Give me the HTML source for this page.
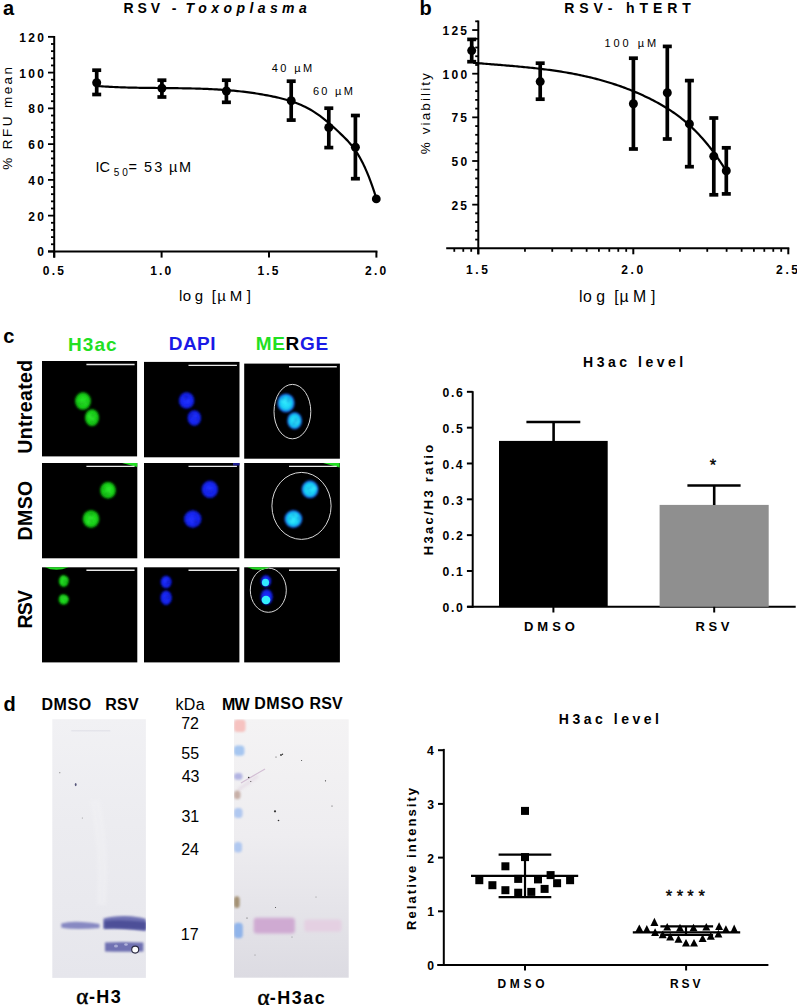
<!DOCTYPE html>
<html><head><meta charset="utf-8"><style>
html,body{margin:0;padding:0;background:#fff;width:797px;height:1005px;overflow:hidden;}
svg{display:block;font-family:"Liberation Sans", sans-serif;}
</style></head><body>
<svg width="797" height="1005" viewBox="0 0 797 1005" font-family='"Liberation Sans", sans-serif'><defs><filter id="bl" x="-50%" y="-50%" width="200%" height="200%"><feGaussianBlur stdDeviation="1.2"/></filter><filter id="bl2" x="-50%" y="-50%" width="200%" height="200%"><feGaussianBlur stdDeviation="0.7"/></filter><filter id="blb" x="-50%" y="-50%" width="200%" height="200%"><feGaussianBlur stdDeviation="1.1"/></filter><clipPath id="cg1"><rect x="52.3" y="719.2" width="93.6" height="258.7"/></clipPath><clipPath id="cg2"><rect x="234" y="719.3" width="114.7" height="258.4"/></clipPath><filter id="bl3" x="-50%" y="-50%" width="200%" height="200%"><feGaussianBlur stdDeviation="1.5"/></filter><radialGradient id="gG"><stop offset="0" stop-color="#2ee82e"/><stop offset="0.7" stop-color="#16d016"/><stop offset="1" stop-color="#0a900a"/></radialGradient><radialGradient id="gB"><stop offset="0" stop-color="#2232ff"/><stop offset="0.7" stop-color="#1424f0"/><stop offset="1" stop-color="#0a12a0"/></radialGradient><radialGradient id="gC"><stop offset="0" stop-color="#30eaff"/><stop offset="0.65" stop-color="#18d0f4"/><stop offset="1" stop-color="#1440e0"/></radialGradient><linearGradient id="gel1" x1="0" y1="0" x2="0" y2="1"><stop offset="0" stop-color="#f1f1f4"/><stop offset="0.4" stop-color="#ececf0"/><stop offset="1" stop-color="#e6e6ec"/></linearGradient><linearGradient id="gel2" x1="0" y1="0" x2="0" y2="1"><stop offset="0" stop-color="#f4f3f4"/><stop offset="0.45" stop-color="#eeedf0"/><stop offset="0.7" stop-color="#e6e5ea"/><stop offset="1" stop-color="#dcdbe2"/></linearGradient></defs>
<text x="3.01" y="15.00" font-family='"Liberation Sans", sans-serif' font-size="20" font-weight="bold" font-style="normal" fill="#000" >a</text>
<text x="123.56 137.56 150.79 164.02 171.80" y="13.20" font-family='"Liberation Sans", sans-serif' font-size="14" font-weight="bold" font-style="normal" fill="#000" >RSV -</text>
<text x="185.41 198.36 211.31 223.50 236.46 249.41 257.70 269.89 282.07 298.92" y="13.20" font-family='"Liberation Sans", sans-serif' font-size="14" font-weight="bold" font-style="italic" fill="#000" >Toxoplasma</text>
<line x1="54.20" y1="36.00" x2="54.20" y2="257.60" stroke="#000" stroke-width="2" stroke-linecap="butt"/>
<line x1="48.00" y1="251.40" x2="377.40" y2="251.40" stroke="#000" stroke-width="2" stroke-linecap="butt"/>
<line x1="48.00" y1="251.40" x2="54.20" y2="251.40" stroke="#000" stroke-width="1.8" stroke-linecap="butt"/>
<text x="37.22" y="256.30" font-family='"Liberation Sans", sans-serif' font-size="12" font-weight="bold" font-style="normal" fill="#000" >0</text>
<line x1="51.00" y1="244.25" x2="54.20" y2="244.25" stroke="#000" stroke-width="1.8" stroke-linecap="butt"/>
<line x1="51.00" y1="237.10" x2="54.20" y2="237.10" stroke="#000" stroke-width="1.8" stroke-linecap="butt"/>
<line x1="51.00" y1="229.94" x2="54.20" y2="229.94" stroke="#000" stroke-width="1.8" stroke-linecap="butt"/>
<line x1="51.00" y1="222.79" x2="54.20" y2="222.79" stroke="#000" stroke-width="1.8" stroke-linecap="butt"/>
<line x1="48.00" y1="215.64" x2="54.20" y2="215.64" stroke="#000" stroke-width="1.8" stroke-linecap="butt"/>
<text x="28.24 37.22" y="220.54" font-family='"Liberation Sans", sans-serif' font-size="12" font-weight="bold" font-style="normal" fill="#000" >20</text>
<line x1="51.00" y1="208.49" x2="54.20" y2="208.49" stroke="#000" stroke-width="1.8" stroke-linecap="butt"/>
<line x1="51.00" y1="201.34" x2="54.20" y2="201.34" stroke="#000" stroke-width="1.8" stroke-linecap="butt"/>
<line x1="51.00" y1="194.18" x2="54.20" y2="194.18" stroke="#000" stroke-width="1.8" stroke-linecap="butt"/>
<line x1="51.00" y1="187.03" x2="54.20" y2="187.03" stroke="#000" stroke-width="1.8" stroke-linecap="butt"/>
<line x1="48.00" y1="179.88" x2="54.20" y2="179.88" stroke="#000" stroke-width="1.8" stroke-linecap="butt"/>
<text x="28.24 37.22" y="184.78" font-family='"Liberation Sans", sans-serif' font-size="12" font-weight="bold" font-style="normal" fill="#000" >40</text>
<line x1="51.00" y1="172.73" x2="54.20" y2="172.73" stroke="#000" stroke-width="1.8" stroke-linecap="butt"/>
<line x1="51.00" y1="165.58" x2="54.20" y2="165.58" stroke="#000" stroke-width="1.8" stroke-linecap="butt"/>
<line x1="51.00" y1="158.42" x2="54.20" y2="158.42" stroke="#000" stroke-width="1.8" stroke-linecap="butt"/>
<line x1="51.00" y1="151.27" x2="54.20" y2="151.27" stroke="#000" stroke-width="1.8" stroke-linecap="butt"/>
<line x1="48.00" y1="144.12" x2="54.20" y2="144.12" stroke="#000" stroke-width="1.8" stroke-linecap="butt"/>
<text x="28.24 37.22" y="149.02" font-family='"Liberation Sans", sans-serif' font-size="12" font-weight="bold" font-style="normal" fill="#000" >60</text>
<line x1="51.00" y1="136.97" x2="54.20" y2="136.97" stroke="#000" stroke-width="1.8" stroke-linecap="butt"/>
<line x1="51.00" y1="129.82" x2="54.20" y2="129.82" stroke="#000" stroke-width="1.8" stroke-linecap="butt"/>
<line x1="51.00" y1="122.66" x2="54.20" y2="122.66" stroke="#000" stroke-width="1.8" stroke-linecap="butt"/>
<line x1="51.00" y1="115.51" x2="54.20" y2="115.51" stroke="#000" stroke-width="1.8" stroke-linecap="butt"/>
<line x1="48.00" y1="108.36" x2="54.20" y2="108.36" stroke="#000" stroke-width="1.8" stroke-linecap="butt"/>
<text x="28.24 37.22" y="113.26" font-family='"Liberation Sans", sans-serif' font-size="12" font-weight="bold" font-style="normal" fill="#000" >80</text>
<line x1="51.00" y1="101.21" x2="54.20" y2="101.21" stroke="#000" stroke-width="1.8" stroke-linecap="butt"/>
<line x1="51.00" y1="94.06" x2="54.20" y2="94.06" stroke="#000" stroke-width="1.8" stroke-linecap="butt"/>
<line x1="51.00" y1="86.90" x2="54.20" y2="86.90" stroke="#000" stroke-width="1.8" stroke-linecap="butt"/>
<line x1="51.00" y1="79.75" x2="54.20" y2="79.75" stroke="#000" stroke-width="1.8" stroke-linecap="butt"/>
<line x1="48.00" y1="72.60" x2="54.20" y2="72.60" stroke="#000" stroke-width="1.8" stroke-linecap="butt"/>
<text x="19.27 28.24 37.22" y="77.50" font-family='"Liberation Sans", sans-serif' font-size="12" font-weight="bold" font-style="normal" fill="#000" >100</text>
<line x1="51.00" y1="65.45" x2="54.20" y2="65.45" stroke="#000" stroke-width="1.8" stroke-linecap="butt"/>
<line x1="51.00" y1="58.30" x2="54.20" y2="58.30" stroke="#000" stroke-width="1.8" stroke-linecap="butt"/>
<line x1="51.00" y1="51.14" x2="54.20" y2="51.14" stroke="#000" stroke-width="1.8" stroke-linecap="butt"/>
<line x1="51.00" y1="43.99" x2="54.20" y2="43.99" stroke="#000" stroke-width="1.8" stroke-linecap="butt"/>
<line x1="48.00" y1="36.84" x2="54.20" y2="36.84" stroke="#000" stroke-width="1.8" stroke-linecap="butt"/>
<text x="19.27 28.24 37.22" y="41.74" font-family='"Liberation Sans", sans-serif' font-size="12" font-weight="bold" font-style="normal" fill="#000" >120</text>
<line x1="54.20" y1="251.40" x2="54.20" y2="257.60" stroke="#000" stroke-width="2" stroke-linecap="butt"/>
<text x="42.79 51.66 57.20" y="275.40" font-family='"Liberation Sans", sans-serif' font-size="12" font-weight="bold" font-style="normal" fill="#000" >0.5</text>
<line x1="161.60" y1="251.40" x2="161.60" y2="257.60" stroke="#000" stroke-width="2" stroke-linecap="butt"/>
<text x="150.13 159.00 164.54" y="275.40" font-family='"Liberation Sans", sans-serif' font-size="12" font-weight="bold" font-style="normal" fill="#000" >1.0</text>
<line x1="269.00" y1="251.40" x2="269.00" y2="257.60" stroke="#000" stroke-width="2" stroke-linecap="butt"/>
<text x="257.45 266.32 271.86" y="275.40" font-family='"Liberation Sans", sans-serif' font-size="12" font-weight="bold" font-style="normal" fill="#000" >1.5</text>
<line x1="376.40" y1="251.40" x2="376.40" y2="257.60" stroke="#000" stroke-width="2" stroke-linecap="butt"/>
<text x="365.10 373.97 379.51" y="275.40" font-family='"Liberation Sans", sans-serif' font-size="12" font-weight="bold" font-style="normal" fill="#000" >2.0</text>
<text transform="translate(11.60,169.30) rotate(-90)" x="-0.48 13.95 20.13 32.30 42.97 55.15 61.33 75.00 84.93 94.87" y="0" font-family='"Liberation Sans", sans-serif' font-size="13.5" font-weight="normal" font-style="normal" fill="#000" >% RFU mean</text>
<text x="178.89 182.67 194.77 203.11 211.63 217.27 229.77 246.68" y="300.80" font-family='"Liberation Sans", sans-serif' font-size="15" font-weight="normal" font-style="normal" fill="#000" >log [µM]</text>
<path d="M96.70,85.96 L98.58,86.10 L100.45,86.23 L102.33,86.36 L104.21,86.48 L106.08,86.60 L107.96,86.71 L109.84,86.81 L111.71,86.90 L113.59,87.00 L115.47,87.08 L117.34,87.16 L119.22,87.23 L121.09,87.30 L122.97,87.37 L124.85,87.43 L126.72,87.49 L128.60,87.54 L130.48,87.59 L132.35,87.63 L134.23,87.67 L136.11,87.71 L137.98,87.75 L139.86,87.78 L141.74,87.81 L143.61,87.84 L145.49,87.87 L147.37,87.89 L149.24,87.91 L151.12,87.93 L153.00,87.95 L154.87,87.97 L156.75,87.99 L158.62,88.01 L160.50,88.03 L162.38,88.04 L164.25,88.06 L166.13,88.08 L168.01,88.10 L169.88,88.11 L171.76,88.13 L173.64,88.16 L175.51,88.18 L177.39,88.20 L179.27,88.23 L181.14,88.26 L183.02,88.29 L184.90,88.32 L186.77,88.35 L188.65,88.39 L190.53,88.43 L192.40,88.48 L194.28,88.52 L196.16,88.58 L198.03,88.63 L199.91,88.69 L201.78,88.75 L203.66,88.82 L205.54,88.90 L207.41,88.97 L209.29,89.06 L211.17,89.15 L213.04,89.24 L214.92,89.34 L216.80,89.45 L218.67,89.56 L220.55,89.68 L222.43,89.81 L224.30,89.94 L226.18,90.08 L228.06,90.23 L229.93,90.39 L231.81,90.55 L233.69,90.72 L235.56,90.90 L237.44,91.09 L239.31,91.28 L241.19,91.49 L243.07,91.70 L244.94,91.93 L246.82,92.16 L248.70,92.41 L250.57,92.66 L252.45,92.92 L254.33,93.20 L256.20,93.48 L258.08,93.78 L259.96,94.08 L261.83,94.40 L263.71,94.73 L265.59,95.07 L267.46,95.42 L269.34,95.79 L271.22,96.16 L273.09,96.55 L274.97,96.95 L276.84,97.37 L278.72,97.80 L280.60,98.25 L282.47,98.72 L284.35,99.21 L286.23,99.73 L288.10,100.28 L289.98,100.85 L291.86,101.46 L293.73,102.10 L295.61,102.78 L297.49,103.49 L299.36,104.25 L301.24,105.05 L303.12,105.90 L304.99,106.79 L306.87,107.74 L308.75,108.74 L310.62,109.79 L312.50,110.90 L314.38,112.07 L316.25,113.30 L318.13,114.60 L320.00,115.95 L321.88,117.36 L323.76,118.82 L325.63,120.34 L327.51,121.90 L329.39,123.50 L331.26,125.14 L333.14,126.82 L335.02,128.53 L336.89,130.27 L338.77,132.04 L340.65,133.83 L342.52,135.64 L344.40,137.48 L346.28,139.38 L348.15,141.36 L350.03,143.46 L351.91,145.72 L353.78,148.15 L355.66,150.80 L357.53,153.68 L359.41,156.81 L361.29,160.20 L363.16,163.87 L365.04,167.84 L366.92,172.10 L368.79,176.69 L370.67,181.60 L372.55,186.86 L374.42,192.47 L376.30,198.45" fill="none" stroke="#000" stroke-width="2.2" stroke-linejoin="round"/>
<line x1="96.70" y1="70.20" x2="96.70" y2="94.50" stroke="#000" stroke-width="3.7" stroke-linecap="butt"/>
<line x1="92.20" y1="70.20" x2="101.20" y2="70.20" stroke="#000" stroke-width="3.7" stroke-linecap="butt"/>
<line x1="92.20" y1="94.50" x2="101.20" y2="94.50" stroke="#000" stroke-width="3.7" stroke-linecap="butt"/>
<circle cx="96.70" cy="82.70" r="4.5" fill="#000"/>
<line x1="161.90" y1="80.20" x2="161.90" y2="97.00" stroke="#000" stroke-width="3.7" stroke-linecap="butt"/>
<line x1="157.40" y1="80.20" x2="166.40" y2="80.20" stroke="#000" stroke-width="3.7" stroke-linecap="butt"/>
<line x1="157.40" y1="97.00" x2="166.40" y2="97.00" stroke="#000" stroke-width="3.7" stroke-linecap="butt"/>
<circle cx="161.90" cy="88.30" r="4.5" fill="#000"/>
<line x1="226.40" y1="80.20" x2="226.40" y2="102.30" stroke="#000" stroke-width="3.7" stroke-linecap="butt"/>
<line x1="221.90" y1="80.20" x2="230.90" y2="80.20" stroke="#000" stroke-width="3.7" stroke-linecap="butt"/>
<line x1="221.90" y1="102.30" x2="230.90" y2="102.30" stroke="#000" stroke-width="3.7" stroke-linecap="butt"/>
<circle cx="226.40" cy="91.00" r="4.5" fill="#000"/>
<line x1="291.20" y1="81.20" x2="291.20" y2="120.10" stroke="#000" stroke-width="3.7" stroke-linecap="butt"/>
<line x1="286.70" y1="81.20" x2="295.70" y2="81.20" stroke="#000" stroke-width="3.7" stroke-linecap="butt"/>
<line x1="286.70" y1="120.10" x2="295.70" y2="120.10" stroke="#000" stroke-width="3.7" stroke-linecap="butt"/>
<circle cx="291.20" cy="100.70" r="4.5" fill="#000"/>
<line x1="328.80" y1="108.20" x2="328.80" y2="147.60" stroke="#000" stroke-width="3.7" stroke-linecap="butt"/>
<line x1="324.30" y1="108.20" x2="333.30" y2="108.20" stroke="#000" stroke-width="3.7" stroke-linecap="butt"/>
<line x1="324.30" y1="147.60" x2="333.30" y2="147.60" stroke="#000" stroke-width="3.7" stroke-linecap="butt"/>
<circle cx="328.80" cy="127.50" r="4.5" fill="#000"/>
<line x1="355.40" y1="115.50" x2="355.40" y2="178.70" stroke="#000" stroke-width="3.7" stroke-linecap="butt"/>
<line x1="350.90" y1="115.50" x2="359.90" y2="115.50" stroke="#000" stroke-width="3.7" stroke-linecap="butt"/>
<line x1="350.90" y1="178.70" x2="359.90" y2="178.70" stroke="#000" stroke-width="3.7" stroke-linecap="butt"/>
<circle cx="355.40" cy="147.20" r="4.5" fill="#000"/>
<circle cx="376.3" cy="198.9" r="4.4" fill="#000"/>
<text x="271.85 280.36 288.86 294.31 303.04" y="72.20" font-family='"Liberation Sans", sans-serif' font-size="11" font-weight="normal" font-style="normal" fill="#000" >40 µM</text>
<text x="312.94 321.35 329.76 335.11 343.74" y="94.90" font-family='"Liberation Sans", sans-serif' font-size="11" font-weight="normal" font-style="normal" fill="#000" >60 µM</text>
<text x="95.56 99.38" y="172.30" font-family='"Liberation Sans", sans-serif' font-size="14.5" font-weight="normal" font-style="normal" fill="#000" >IC</text>
<text x="113.80 122.13" y="176.40" font-family='"Liberation Sans", sans-serif' font-size="10" font-weight="normal" font-style="normal" fill="#000" >50</text>
<text x="128.59" y="172.30" font-family='"Liberation Sans", sans-serif' font-size="14.5" font-weight="normal" font-style="normal" fill="#000" >=</text>
<text x="143.92 154.37" y="172.30" font-family='"Liberation Sans", sans-serif' font-size="14.5" font-weight="normal" font-style="normal" fill="#000" >53</text>
<text x="169.01 179.11" y="172.30" font-family='"Liberation Sans", sans-serif' font-size="14.5" font-weight="normal" font-style="normal" fill="#000" >µM</text>
<text x="419.48" y="15.00" font-family='"Liberation Sans", sans-serif' font-size="20" font-weight="bold" font-style="normal" fill="#000" >b</text>
<text x="564.16 579.18 593.42 607.66 617.23 626.03 639.48 652.94 667.18 682.20" y="13.00" font-family='"Liberation Sans", sans-serif' font-size="14" font-weight="bold" font-style="normal" fill="#000" >RSV- hTERT</text>
<line x1="478.30" y1="20.50" x2="478.30" y2="254.30" stroke="#000" stroke-width="2" stroke-linecap="butt"/>
<line x1="446.20" y1="248.30" x2="789.30" y2="248.30" stroke="#000" stroke-width="2" stroke-linecap="butt"/>
<line x1="475.20" y1="239.57" x2="478.30" y2="239.57" stroke="#000" stroke-width="1.8" stroke-linecap="butt"/>
<line x1="475.20" y1="230.84" x2="478.30" y2="230.84" stroke="#000" stroke-width="1.8" stroke-linecap="butt"/>
<line x1="475.20" y1="222.11" x2="478.30" y2="222.11" stroke="#000" stroke-width="1.8" stroke-linecap="butt"/>
<line x1="475.20" y1="213.38" x2="478.30" y2="213.38" stroke="#000" stroke-width="1.8" stroke-linecap="butt"/>
<line x1="472.20" y1="204.65" x2="478.30" y2="204.65" stroke="#000" stroke-width="1.8" stroke-linecap="butt"/>
<text x="451.39 460.36" y="209.75" font-family='"Liberation Sans", sans-serif' font-size="12" font-weight="bold" font-style="normal" fill="#000" >25</text>
<line x1="475.20" y1="195.92" x2="478.30" y2="195.92" stroke="#000" stroke-width="1.8" stroke-linecap="butt"/>
<line x1="475.20" y1="187.19" x2="478.30" y2="187.19" stroke="#000" stroke-width="1.8" stroke-linecap="butt"/>
<line x1="475.20" y1="178.46" x2="478.30" y2="178.46" stroke="#000" stroke-width="1.8" stroke-linecap="butt"/>
<line x1="475.20" y1="169.73" x2="478.30" y2="169.73" stroke="#000" stroke-width="1.8" stroke-linecap="butt"/>
<line x1="472.20" y1="161.00" x2="478.30" y2="161.00" stroke="#000" stroke-width="1.8" stroke-linecap="butt"/>
<text x="451.54 460.52" y="166.10" font-family='"Liberation Sans", sans-serif' font-size="12" font-weight="bold" font-style="normal" fill="#000" >50</text>
<line x1="475.20" y1="152.27" x2="478.30" y2="152.27" stroke="#000" stroke-width="1.8" stroke-linecap="butt"/>
<line x1="475.20" y1="143.54" x2="478.30" y2="143.54" stroke="#000" stroke-width="1.8" stroke-linecap="butt"/>
<line x1="475.20" y1="134.81" x2="478.30" y2="134.81" stroke="#000" stroke-width="1.8" stroke-linecap="butt"/>
<line x1="475.20" y1="126.08" x2="478.30" y2="126.08" stroke="#000" stroke-width="1.8" stroke-linecap="butt"/>
<line x1="472.20" y1="117.35" x2="478.30" y2="117.35" stroke="#000" stroke-width="1.8" stroke-linecap="butt"/>
<text x="451.39 460.36" y="122.45" font-family='"Liberation Sans", sans-serif' font-size="12" font-weight="bold" font-style="normal" fill="#000" >75</text>
<line x1="475.20" y1="108.62" x2="478.30" y2="108.62" stroke="#000" stroke-width="1.8" stroke-linecap="butt"/>
<line x1="475.20" y1="99.89" x2="478.30" y2="99.89" stroke="#000" stroke-width="1.8" stroke-linecap="butt"/>
<line x1="475.20" y1="91.16" x2="478.30" y2="91.16" stroke="#000" stroke-width="1.8" stroke-linecap="butt"/>
<line x1="475.20" y1="82.43" x2="478.30" y2="82.43" stroke="#000" stroke-width="1.8" stroke-linecap="butt"/>
<line x1="472.20" y1="73.70" x2="478.30" y2="73.70" stroke="#000" stroke-width="1.8" stroke-linecap="butt"/>
<text x="442.57 451.54 460.52" y="78.80" font-family='"Liberation Sans", sans-serif' font-size="12" font-weight="bold" font-style="normal" fill="#000" >100</text>
<line x1="475.20" y1="64.97" x2="478.30" y2="64.97" stroke="#000" stroke-width="1.8" stroke-linecap="butt"/>
<line x1="475.20" y1="56.24" x2="478.30" y2="56.24" stroke="#000" stroke-width="1.8" stroke-linecap="butt"/>
<line x1="475.20" y1="47.51" x2="478.30" y2="47.51" stroke="#000" stroke-width="1.8" stroke-linecap="butt"/>
<line x1="475.20" y1="38.78" x2="478.30" y2="38.78" stroke="#000" stroke-width="1.8" stroke-linecap="butt"/>
<line x1="472.20" y1="30.05" x2="478.30" y2="30.05" stroke="#000" stroke-width="1.8" stroke-linecap="butt"/>
<text x="442.41 451.39 460.36" y="35.15" font-family='"Liberation Sans", sans-serif' font-size="12" font-weight="bold" font-style="normal" fill="#000" >125</text>
<line x1="475.20" y1="21.32" x2="478.30" y2="21.32" stroke="#000" stroke-width="1.8" stroke-linecap="butt"/>
<line x1="454.29" y1="248.30" x2="454.29" y2="251.80" stroke="#000" stroke-width="1.8" stroke-linecap="butt"/>
<line x1="463.28" y1="248.30" x2="463.28" y2="251.80" stroke="#000" stroke-width="1.8" stroke-linecap="butt"/>
<line x1="471.21" y1="248.30" x2="471.21" y2="251.80" stroke="#000" stroke-width="1.8" stroke-linecap="butt"/>
<line x1="524.96" y1="248.30" x2="524.96" y2="251.80" stroke="#000" stroke-width="1.8" stroke-linecap="butt"/>
<line x1="552.25" y1="248.30" x2="552.25" y2="251.80" stroke="#000" stroke-width="1.8" stroke-linecap="butt"/>
<line x1="571.62" y1="248.30" x2="571.62" y2="251.80" stroke="#000" stroke-width="1.8" stroke-linecap="butt"/>
<line x1="586.64" y1="248.30" x2="586.64" y2="251.80" stroke="#000" stroke-width="1.8" stroke-linecap="butt"/>
<line x1="598.91" y1="248.30" x2="598.91" y2="251.80" stroke="#000" stroke-width="1.8" stroke-linecap="butt"/>
<line x1="609.29" y1="248.30" x2="609.29" y2="251.80" stroke="#000" stroke-width="1.8" stroke-linecap="butt"/>
<line x1="618.28" y1="248.30" x2="618.28" y2="251.80" stroke="#000" stroke-width="1.8" stroke-linecap="butt"/>
<line x1="626.21" y1="248.30" x2="626.21" y2="251.80" stroke="#000" stroke-width="1.8" stroke-linecap="butt"/>
<line x1="679.96" y1="248.30" x2="679.96" y2="251.80" stroke="#000" stroke-width="1.8" stroke-linecap="butt"/>
<line x1="707.25" y1="248.30" x2="707.25" y2="251.80" stroke="#000" stroke-width="1.8" stroke-linecap="butt"/>
<line x1="726.62" y1="248.30" x2="726.62" y2="251.80" stroke="#000" stroke-width="1.8" stroke-linecap="butt"/>
<line x1="741.64" y1="248.30" x2="741.64" y2="251.80" stroke="#000" stroke-width="1.8" stroke-linecap="butt"/>
<line x1="753.91" y1="248.30" x2="753.91" y2="251.80" stroke="#000" stroke-width="1.8" stroke-linecap="butt"/>
<line x1="764.29" y1="248.30" x2="764.29" y2="251.80" stroke="#000" stroke-width="1.8" stroke-linecap="butt"/>
<line x1="773.28" y1="248.30" x2="773.28" y2="251.80" stroke="#000" stroke-width="1.8" stroke-linecap="butt"/>
<line x1="781.21" y1="248.30" x2="781.21" y2="251.80" stroke="#000" stroke-width="1.8" stroke-linecap="butt"/>
<line x1="478.30" y1="248.30" x2="478.30" y2="254.30" stroke="#000" stroke-width="2" stroke-linecap="butt"/>
<text x="465.95 475.22 481.16" y="273.80" font-family='"Liberation Sans", sans-serif' font-size="12" font-weight="bold" font-style="normal" fill="#000" >1.5</text>
<line x1="633.30" y1="248.30" x2="633.30" y2="254.30" stroke="#000" stroke-width="2" stroke-linecap="butt"/>
<text x="621.20 630.47 636.41" y="273.80" font-family='"Liberation Sans", sans-serif' font-size="12" font-weight="bold" font-style="normal" fill="#000" >2.0</text>
<line x1="788.30" y1="248.30" x2="788.30" y2="254.30" stroke="#000" stroke-width="2" stroke-linecap="butt"/>
<text x="776.12 785.39 791.33" y="273.80" font-family='"Liberation Sans", sans-serif' font-size="12" font-weight="bold" font-style="normal" fill="#000" >2.5</text>
<text transform="translate(430.30,153.70) rotate(-90)" x="-0.48 13.62 19.47 28.32 33.42 43.03 52.63 57.73 62.83 67.93 73.78" y="0" font-family='"Liberation Sans", sans-serif' font-size="13.5" font-weight="normal" font-style="normal" fill="#000" >% viability</text>
<text x="579.04 583.04 596.14 604.92 614.17 619.62 633.10 650.88" y="301.80" font-family='"Liberation Sans", sans-serif' font-size="15.8" font-weight="normal" font-style="normal" fill="#000" >log [µM]</text>
<path d="M473.00,62.75 L474.70,62.89 L476.40,63.04 L478.10,63.18 L479.79,63.32 L481.49,63.46 L483.19,63.60 L484.89,63.74 L486.59,63.88 L488.29,64.01 L489.99,64.15 L491.69,64.29 L493.38,64.42 L495.08,64.56 L496.78,64.70 L498.48,64.83 L500.18,64.97 L501.88,65.11 L503.58,65.25 L505.27,65.39 L506.97,65.53 L508.67,65.67 L510.37,65.82 L512.07,65.97 L513.77,66.11 L515.47,66.26 L517.17,66.42 L518.86,66.57 L520.56,66.73 L522.26,66.89 L523.96,67.05 L525.66,67.22 L527.36,67.39 L529.06,67.56 L530.75,67.73 L532.45,67.91 L534.15,68.10 L535.85,68.28 L537.55,68.48 L539.25,68.67 L540.95,68.87 L542.64,69.08 L544.34,69.29 L546.04,69.50 L547.74,69.72 L549.44,69.95 L551.14,70.18 L552.84,70.42 L554.54,70.66 L556.23,70.91 L557.93,71.16 L559.63,71.42 L561.33,71.69 L563.03,71.97 L564.73,72.25 L566.43,72.53 L568.12,72.83 L569.82,73.13 L571.52,73.44 L573.22,73.76 L574.92,74.08 L576.62,74.42 L578.32,74.76 L580.02,75.11 L581.71,75.47 L583.41,75.83 L585.11,76.21 L586.81,76.59 L588.51,76.99 L590.21,77.39 L591.91,77.80 L593.60,78.22 L595.30,78.66 L597.00,79.10 L598.70,79.55 L600.40,80.01 L602.10,80.48 L603.80,80.97 L605.50,81.46 L607.19,81.96 L608.89,82.48 L610.59,83.01 L612.29,83.54 L613.99,84.09 L615.69,84.66 L617.39,85.23 L619.08,85.82 L620.78,86.41 L622.48,87.02 L624.18,87.65 L625.88,88.28 L627.58,88.93 L629.28,89.59 L630.98,90.27 L632.67,90.95 L634.37,91.65 L636.07,92.37 L637.77,93.10 L639.47,93.84 L641.17,94.60 L642.87,95.37 L644.56,96.16 L646.26,96.96 L647.96,97.77 L649.66,98.60 L651.36,99.45 L653.06,100.32 L654.76,101.20 L656.46,102.10 L658.15,103.03 L659.85,103.97 L661.55,104.94 L663.25,105.93 L664.95,106.95 L666.65,108.00 L668.35,109.07 L670.04,110.18 L671.74,111.31 L673.44,112.48 L675.14,113.68 L676.84,114.91 L678.54,116.18 L680.24,117.48 L681.93,118.83 L683.63,120.21 L685.33,121.63 L687.03,123.09 L688.73,124.59 L690.43,126.14 L692.13,127.74 L693.83,129.37 L695.52,131.06 L697.22,132.79 L698.92,134.58 L700.62,136.41 L702.32,138.30 L704.02,140.24 L705.72,142.23 L707.41,144.28 L709.11,146.39 L710.81,148.55 L712.51,150.78 L714.21,153.06 L715.91,155.41 L717.61,157.81 L719.31,160.29 L721.00,162.82 L722.70,165.43 L724.40,168.10 L726.10,170.83" fill="none" stroke="#000" stroke-width="2.2" stroke-linejoin="round"/>
<line x1="471.70" y1="39.40" x2="471.70" y2="61.70" stroke="#000" stroke-width="3.7" stroke-linecap="butt"/>
<line x1="467.20" y1="39.40" x2="476.20" y2="39.40" stroke="#000" stroke-width="3.7" stroke-linecap="butt"/>
<line x1="467.20" y1="61.70" x2="476.20" y2="61.70" stroke="#000" stroke-width="3.7" stroke-linecap="butt"/>
<circle cx="471.70" cy="50.60" r="4.5" fill="#000"/>
<line x1="540.20" y1="63.20" x2="540.20" y2="99.20" stroke="#000" stroke-width="3.7" stroke-linecap="butt"/>
<line x1="535.70" y1="63.20" x2="544.70" y2="63.20" stroke="#000" stroke-width="3.7" stroke-linecap="butt"/>
<line x1="535.70" y1="99.20" x2="544.70" y2="99.20" stroke="#000" stroke-width="3.7" stroke-linecap="butt"/>
<circle cx="540.20" cy="81.60" r="4.5" fill="#000"/>
<line x1="633.40" y1="58.20" x2="633.40" y2="149.00" stroke="#000" stroke-width="3.7" stroke-linecap="butt"/>
<line x1="628.90" y1="58.20" x2="637.90" y2="58.20" stroke="#000" stroke-width="3.7" stroke-linecap="butt"/>
<line x1="628.90" y1="149.00" x2="637.90" y2="149.00" stroke="#000" stroke-width="3.7" stroke-linecap="butt"/>
<circle cx="633.40" cy="103.70" r="4.5" fill="#000"/>
<line x1="667.30" y1="46.40" x2="667.30" y2="139.00" stroke="#000" stroke-width="3.7" stroke-linecap="butt"/>
<line x1="662.80" y1="46.40" x2="671.80" y2="46.40" stroke="#000" stroke-width="3.7" stroke-linecap="butt"/>
<line x1="662.80" y1="139.00" x2="671.80" y2="139.00" stroke="#000" stroke-width="3.7" stroke-linecap="butt"/>
<circle cx="667.30" cy="92.70" r="4.5" fill="#000"/>
<line x1="689.40" y1="80.60" x2="689.40" y2="166.70" stroke="#000" stroke-width="3.7" stroke-linecap="butt"/>
<line x1="684.90" y1="80.60" x2="693.90" y2="80.60" stroke="#000" stroke-width="3.7" stroke-linecap="butt"/>
<line x1="684.90" y1="166.70" x2="693.90" y2="166.70" stroke="#000" stroke-width="3.7" stroke-linecap="butt"/>
<circle cx="689.40" cy="123.90" r="4.5" fill="#000"/>
<line x1="713.80" y1="118.00" x2="713.80" y2="194.80" stroke="#000" stroke-width="3.7" stroke-linecap="butt"/>
<line x1="709.30" y1="118.00" x2="718.30" y2="118.00" stroke="#000" stroke-width="3.7" stroke-linecap="butt"/>
<line x1="709.30" y1="194.80" x2="718.30" y2="194.80" stroke="#000" stroke-width="3.7" stroke-linecap="butt"/>
<circle cx="713.80" cy="156.30" r="4.5" fill="#000"/>
<line x1="726.30" y1="147.80" x2="726.30" y2="193.90" stroke="#000" stroke-width="3.7" stroke-linecap="butt"/>
<line x1="721.80" y1="147.80" x2="730.80" y2="147.80" stroke="#000" stroke-width="3.7" stroke-linecap="butt"/>
<line x1="721.80" y1="193.90" x2="730.80" y2="193.90" stroke="#000" stroke-width="3.7" stroke-linecap="butt"/>
<circle cx="726.30" cy="170.80" r="4.5" fill="#000"/>
<text x="604.46 613.53 622.59 631.65 637.66 646.94" y="47.00" font-family='"Liberation Sans", sans-serif' font-size="11" font-weight="normal" font-style="normal" fill="#000" >100 µM</text>
<text x="3.22" y="342.50" font-family='"Liberation Sans", sans-serif' font-size="20" font-weight="bold" font-style="normal" fill="#000" >c</text>
<text x="68.03 82.79 94.39 105.99" y="350.50" font-family='"Liberation Sans", sans-serif' font-size="19" font-weight="bold" font-style="normal" fill="#22e022" >H3ac</text>
<text x="168.73 182.90 197.07 210.19" y="350.40" font-family='"Liberation Sans", sans-serif' font-size="19" font-weight="bold" font-style="normal" fill="#1a1ae6" >DAPI</text>
<text x="255.73" y="350.4" font-size="19" font-weight="bold" fill="#22e022">M</text>
<text x="272.24" y="350.4" font-size="19" font-weight="bold" fill="#22e022">E</text>
<text x="285.60" y="350.4" font-size="19" font-weight="bold" fill="#000">R</text>
<text x="300.01" y="350.4" font-size="19" font-weight="bold" fill="#1a1ae6">G</text>
<text x="315.47" y="350.4" font-size="19" font-weight="bold" fill="#1a1ae6">E</text>
<text transform="translate(32.10,452.50) rotate(-90)" x="-1.17 13.25 25.51 32.34 40.28 51.46 62.65 69.49 80.67" y="0" font-family='"Liberation Sans", sans-serif' font-size="19.5" font-weight="bold" font-style="normal" fill="#000" >Untreated</text>
<text transform="translate(31.60,539.20) rotate(-90)" x="-1.30 13.19 29.84 43.25" y="0" font-family='"Liberation Sans", sans-serif' font-size="19.5" font-weight="bold" font-style="normal" fill="#000" >DMSO</text>
<text transform="translate(31.60,627.30) rotate(-90)" x="-1.30 12.10 24.43" y="0" font-family='"Liberation Sans", sans-serif' font-size="19.5" font-weight="bold" font-style="normal" fill="#000" >RSV</text>
<rect x="42" y="361" width="95.1" height="95.4" fill="#000"/>
<rect x="144" y="361.9" width="95.5" height="95.4" fill="#000"/>
<rect x="244.2" y="363.6" width="95.7" height="95.1" fill="#000"/>
<rect x="42" y="463" width="95.3" height="95.3" fill="#000"/>
<rect x="144" y="463" width="95.4" height="95.3" fill="#000"/>
<rect x="244.2" y="463" width="95.7" height="95.3" fill="#000"/>
<rect x="42" y="567.3" width="95.3" height="95.1" fill="#000"/>
<rect x="144" y="567.3" width="95.4" height="95.1" fill="#000"/>
<rect x="244.2" y="567.3" width="95.7" height="95.1" fill="#000"/>
<rect x="233" y="463" width="6.5" height="2.5" fill="#1a1a90" filter="url(#bl2)"/>
<ellipse cx="83" cy="401.1" rx="8.1" ry="9" fill="url(#gG)" filter="url(#bl)" transform="rotate(0 83 401.1)"/>
<circle cx="82.03" cy="403.26" r="1.92" fill="#0c8c0c" opacity="0.35" filter="url(#bl)"/>
<circle cx="86.21" cy="402.85" r="1.69" fill="#44f044" opacity="0.35" filter="url(#bl)"/>
<circle cx="86.24" cy="402.47" r="1.43" fill="#0c8c0c" opacity="0.35" filter="url(#bl)"/>
<circle cx="81.29" cy="401.94" r="1.47" fill="#44f044" opacity="0.35" filter="url(#bl)"/>
<circle cx="78.88" cy="403.45" r="1.50" fill="#0c8c0c" opacity="0.35" filter="url(#bl)"/>
<ellipse cx="92" cy="417.6" rx="7.2" ry="8.7" fill="url(#gG)" filter="url(#bl)" transform="rotate(0 92 417.6)"/>
<circle cx="92.58" cy="421.74" r="2.16" fill="#0c8c0c" opacity="0.35" filter="url(#bl)"/>
<circle cx="89.59" cy="416.07" r="2.18" fill="#44f044" opacity="0.35" filter="url(#bl)"/>
<circle cx="96.04" cy="419.07" r="1.63" fill="#0c8c0c" opacity="0.35" filter="url(#bl)"/>
<circle cx="93.12" cy="419.33" r="1.65" fill="#44f044" opacity="0.35" filter="url(#bl)"/>
<circle cx="92.82" cy="415.36" r="1.87" fill="#0c8c0c" opacity="0.35" filter="url(#bl)"/>
<ellipse cx="186.6" cy="400.5" rx="8" ry="8.5" fill="url(#gB)" filter="url(#bl)" transform="rotate(0 186.6 400.5)"/>
<circle cx="184.71" cy="398.11" r="1.84" fill="#0a14a8" opacity="0.35" filter="url(#bl)"/>
<circle cx="188.28" cy="401.24" r="1.56" fill="#3040ff" opacity="0.35" filter="url(#bl)"/>
<circle cx="185.27" cy="397.48" r="1.65" fill="#0a14a8" opacity="0.35" filter="url(#bl)"/>
<circle cx="183.82" cy="398.74" r="1.64" fill="#3040ff" opacity="0.35" filter="url(#bl)"/>
<circle cx="187.73" cy="396.30" r="1.60" fill="#0a14a8" opacity="0.35" filter="url(#bl)"/>
<ellipse cx="194.3" cy="418" rx="7" ry="8" fill="url(#gB)" filter="url(#bl)" transform="rotate(0 194.3 418)"/>
<circle cx="191.57" cy="416.43" r="2.10" fill="#0a14a8" opacity="0.35" filter="url(#bl)"/>
<circle cx="194.00" cy="415.39" r="2.18" fill="#3040ff" opacity="0.35" filter="url(#bl)"/>
<circle cx="196.30" cy="420.10" r="2.01" fill="#0a14a8" opacity="0.35" filter="url(#bl)"/>
<circle cx="196.00" cy="420.74" r="1.43" fill="#3040ff" opacity="0.35" filter="url(#bl)"/>
<circle cx="192.43" cy="414.21" r="1.86" fill="#0a14a8" opacity="0.35" filter="url(#bl)"/>
<ellipse cx="286" cy="403" rx="8.7" ry="9.4" fill="url(#gC)" filter="url(#bl)" transform="rotate(0 286 403)"/>
<circle cx="288.11" cy="400.74" r="1.96" fill="#1478d0" opacity="0.35" filter="url(#bl)"/>
<circle cx="282.67" cy="400.58" r="1.76" fill="#50f4ff" opacity="0.35" filter="url(#bl)"/>
<circle cx="288.91" cy="398.04" r="1.78" fill="#1478d0" opacity="0.35" filter="url(#bl)"/>
<circle cx="284.98" cy="401.17" r="1.96" fill="#50f4ff" opacity="0.35" filter="url(#bl)"/>
<circle cx="282.61" cy="398.15" r="2.06" fill="#1478d0" opacity="0.35" filter="url(#bl)"/>
<ellipse cx="294.6" cy="420.7" rx="7.5" ry="8.7" fill="url(#gC)" filter="url(#bl)" transform="rotate(0 294.6 420.7)"/>
<circle cx="294.00" cy="423.87" r="1.93" fill="#1478d0" opacity="0.35" filter="url(#bl)"/>
<circle cx="297.63" cy="421.20" r="1.53" fill="#50f4ff" opacity="0.35" filter="url(#bl)"/>
<circle cx="295.86" cy="422.02" r="2.01" fill="#1478d0" opacity="0.35" filter="url(#bl)"/>
<circle cx="296.21" cy="422.67" r="1.71" fill="#50f4ff" opacity="0.35" filter="url(#bl)"/>
<circle cx="295.82" cy="419.21" r="1.76" fill="#1478d0" opacity="0.35" filter="url(#bl)"/>
<ellipse cx="292.4" cy="411.6" rx="18.4" ry="27.2" fill="none" stroke="#d8d8d8" stroke-width="1"/>
<ellipse cx="108" cy="490.2" rx="8" ry="8.5" fill="url(#gG)" filter="url(#bl)" transform="rotate(0 108 490.2)"/>
<circle cx="103.45" cy="488.65" r="2.06" fill="#0c8c0c" opacity="0.35" filter="url(#bl)"/>
<circle cx="109.71" cy="488.11" r="1.73" fill="#44f044" opacity="0.35" filter="url(#bl)"/>
<circle cx="104.98" cy="494.14" r="2.17" fill="#0c8c0c" opacity="0.35" filter="url(#bl)"/>
<circle cx="109.30" cy="492.13" r="1.59" fill="#44f044" opacity="0.35" filter="url(#bl)"/>
<circle cx="108.35" cy="493.74" r="1.87" fill="#0c8c0c" opacity="0.35" filter="url(#bl)"/>
<ellipse cx="91" cy="518.9" rx="8.5" ry="9" fill="url(#gG)" filter="url(#bl)" transform="rotate(0 91 518.9)"/>
<circle cx="90.86" cy="520.71" r="1.74" fill="#0c8c0c" opacity="0.35" filter="url(#bl)"/>
<circle cx="88.37" cy="521.90" r="2.16" fill="#44f044" opacity="0.35" filter="url(#bl)"/>
<circle cx="89.66" cy="515.28" r="1.89" fill="#0c8c0c" opacity="0.35" filter="url(#bl)"/>
<circle cx="90.15" cy="517.09" r="2.12" fill="#44f044" opacity="0.35" filter="url(#bl)"/>
<circle cx="91.94" cy="513.65" r="2.04" fill="#0c8c0c" opacity="0.35" filter="url(#bl)"/>
<ellipse cx="209.8" cy="489.3" rx="8.5" ry="9" fill="url(#gB)" filter="url(#bl)" transform="rotate(0 209.8 489.3)"/>
<circle cx="207.28" cy="491.44" r="1.48" fill="#0a14a8" opacity="0.35" filter="url(#bl)"/>
<circle cx="208.51" cy="487.77" r="1.45" fill="#3040ff" opacity="0.35" filter="url(#bl)"/>
<circle cx="210.39" cy="491.68" r="1.67" fill="#0a14a8" opacity="0.35" filter="url(#bl)"/>
<circle cx="211.41" cy="489.88" r="1.52" fill="#3040ff" opacity="0.35" filter="url(#bl)"/>
<circle cx="212.28" cy="491.25" r="1.42" fill="#0a14a8" opacity="0.35" filter="url(#bl)"/>
<ellipse cx="192.7" cy="519" rx="9" ry="9" fill="url(#gB)" filter="url(#bl)" transform="rotate(0 192.7 519)"/>
<circle cx="195.72" cy="515.96" r="1.52" fill="#0a14a8" opacity="0.35" filter="url(#bl)"/>
<circle cx="192.65" cy="522.21" r="1.69" fill="#3040ff" opacity="0.35" filter="url(#bl)"/>
<circle cx="196.45" cy="522.65" r="2.19" fill="#0a14a8" opacity="0.35" filter="url(#bl)"/>
<circle cx="189.03" cy="519.80" r="1.47" fill="#3040ff" opacity="0.35" filter="url(#bl)"/>
<circle cx="195.25" cy="520.91" r="1.61" fill="#0a14a8" opacity="0.35" filter="url(#bl)"/>
<ellipse cx="310" cy="489.3" rx="8.5" ry="9" fill="url(#gC)" filter="url(#bl)" transform="rotate(0 310 489.3)"/>
<circle cx="311.10" cy="487.14" r="1.42" fill="#1478d0" opacity="0.35" filter="url(#bl)"/>
<circle cx="313.55" cy="488.11" r="1.52" fill="#50f4ff" opacity="0.35" filter="url(#bl)"/>
<circle cx="308.26" cy="488.79" r="1.82" fill="#1478d0" opacity="0.35" filter="url(#bl)"/>
<circle cx="314.96" cy="488.59" r="1.96" fill="#50f4ff" opacity="0.35" filter="url(#bl)"/>
<circle cx="309.78" cy="492.58" r="1.53" fill="#1478d0" opacity="0.35" filter="url(#bl)"/>
<ellipse cx="293.4" cy="519" rx="9" ry="9" fill="url(#gC)" filter="url(#bl)" transform="rotate(0 293.4 519)"/>
<circle cx="293.94" cy="515.08" r="2.02" fill="#1478d0" opacity="0.35" filter="url(#bl)"/>
<circle cx="292.10" cy="521.37" r="2.05" fill="#50f4ff" opacity="0.35" filter="url(#bl)"/>
<circle cx="298.63" cy="518.50" r="2.04" fill="#1478d0" opacity="0.35" filter="url(#bl)"/>
<circle cx="295.40" cy="514.64" r="1.58" fill="#50f4ff" opacity="0.35" filter="url(#bl)"/>
<circle cx="290.18" cy="518.64" r="1.42" fill="#1478d0" opacity="0.35" filter="url(#bl)"/>
<ellipse cx="301.5" cy="505.9" rx="29.6" ry="33.5" fill="none" stroke="#d8d8d8" stroke-width="1"/>
<path d="M122,463 L137.2,463 L137.2,467 Z" fill="#22dd22" filter="url(#bl2)"/>
<path d="M323,463 L339.6,463 L339.6,467.5 Z" fill="#22dd22" filter="url(#bl2)"/>
<ellipse cx="63.7" cy="581.1" rx="5" ry="6" fill="url(#gG)" filter="url(#bl)" transform="rotate(0 63.7 581.1)"/>
<circle cx="65.30" cy="581.44" r="1.61" fill="#0c8c0c" opacity="0.35" filter="url(#bl)"/>
<circle cx="62.59" cy="577.56" r="1.76" fill="#44f044" opacity="0.35" filter="url(#bl)"/>
<circle cx="66.67" cy="579.61" r="2.16" fill="#0c8c0c" opacity="0.35" filter="url(#bl)"/>
<circle cx="62.71" cy="582.45" r="1.58" fill="#44f044" opacity="0.35" filter="url(#bl)"/>
<circle cx="64.18" cy="582.75" r="1.90" fill="#0c8c0c" opacity="0.35" filter="url(#bl)"/>
<circle cx="66.04" cy="579.07" r="1.78" fill="#44f044" opacity="0.35" filter="url(#bl)"/>
<ellipse cx="63.7" cy="599.5" rx="5.2" ry="5.2" fill="url(#gG)" filter="url(#bl)" transform="rotate(0 63.7 599.5)"/>
<circle cx="62.03" cy="597.11" r="1.47" fill="#0c8c0c" opacity="0.35" filter="url(#bl)"/>
<circle cx="62.01" cy="596.82" r="2.03" fill="#44f044" opacity="0.35" filter="url(#bl)"/>
<circle cx="63.70" cy="597.34" r="1.54" fill="#0c8c0c" opacity="0.35" filter="url(#bl)"/>
<circle cx="64.14" cy="597.74" r="2.04" fill="#44f044" opacity="0.35" filter="url(#bl)"/>
<circle cx="65.64" cy="599.15" r="1.72" fill="#0c8c0c" opacity="0.35" filter="url(#bl)"/>
<circle cx="66.28" cy="598.60" r="1.54" fill="#44f044" opacity="0.35" filter="url(#bl)"/>
<ellipse cx="166.1" cy="582" rx="5.7" ry="6.5" fill="url(#gB)" filter="url(#bl)" transform="rotate(0 166.1 582)"/>
<circle cx="167.17" cy="583.25" r="2.12" fill="#0a14a8" opacity="0.35" filter="url(#bl)"/>
<circle cx="166.63" cy="580.38" r="2.06" fill="#3040ff" opacity="0.35" filter="url(#bl)"/>
<circle cx="168.90" cy="581.60" r="1.68" fill="#0a14a8" opacity="0.35" filter="url(#bl)"/>
<circle cx="164.69" cy="581.49" r="1.41" fill="#3040ff" opacity="0.35" filter="url(#bl)"/>
<circle cx="168.86" cy="581.42" r="1.82" fill="#0a14a8" opacity="0.35" filter="url(#bl)"/>
<ellipse cx="166.1" cy="597.8" rx="5.9" ry="7.5" fill="url(#gB)" filter="url(#bl)" transform="rotate(0 166.1 597.8)"/>
<circle cx="168.23" cy="596.60" r="2.10" fill="#0a14a8" opacity="0.35" filter="url(#bl)"/>
<circle cx="166.90" cy="595.84" r="1.60" fill="#3040ff" opacity="0.35" filter="url(#bl)"/>
<circle cx="165.61" cy="600.03" r="1.87" fill="#0a14a8" opacity="0.35" filter="url(#bl)"/>
<circle cx="165.97" cy="600.71" r="1.50" fill="#3040ff" opacity="0.35" filter="url(#bl)"/>
<circle cx="167.89" cy="596.36" r="1.77" fill="#0a14a8" opacity="0.35" filter="url(#bl)"/>
<ellipse cx="266" cy="581.1" rx="5.3" ry="6.2" fill="url(#gB)" filter="url(#bl)" transform="rotate(0 266 581.1)"/>
<ellipse cx="266.7" cy="596.9" rx="6.2" ry="7.9" fill="url(#gB)" filter="url(#bl)" transform="rotate(0 266.7 596.9)"/>
<ellipse cx="265.5" cy="582.5" rx="3.6" ry="3.8" fill="#30e8ff" filter="url(#bl2)"/>
<ellipse cx="266" cy="600" rx="4.4" ry="4.2" fill="#30f0ff" filter="url(#bl2)"/>
<ellipse cx="268.3" cy="590.2" rx="18" ry="22.1" fill="none" stroke="#d8d8d8" stroke-width="1"/>
<path d="M45,567.3 L68.5,567.3 Q62,569.8 56.5,569.8 Q50,569.8 45,567.3 Z" fill="#22dd22" filter="url(#bl2)"/>
<path d="M247.5,567.3 L269.5,567.3 Q264,569.8 258.5,569.8 Q252,569.8 247.5,567.3 Z" fill="#22dd22" filter="url(#bl2)"/>
<line x1="86.40" y1="364.50" x2="134.60" y2="364.50" stroke="#e8e8e8" stroke-width="1.4" stroke-linecap="butt"/>
<line x1="188.50" y1="365.40" x2="236.90" y2="365.40" stroke="#e8e8e8" stroke-width="1.4" stroke-linecap="butt"/>
<line x1="289.00" y1="366.80" x2="336.80" y2="366.80" stroke="#e8e8e8" stroke-width="1.4" stroke-linecap="butt"/>
<line x1="86.40" y1="466.40" x2="134.60" y2="466.40" stroke="#e8e8e8" stroke-width="1.4" stroke-linecap="butt"/>
<line x1="188.50" y1="466.40" x2="236.90" y2="466.40" stroke="#e8e8e8" stroke-width="1.4" stroke-linecap="butt"/>
<line x1="289.00" y1="466.40" x2="336.80" y2="466.40" stroke="#e8e8e8" stroke-width="1.4" stroke-linecap="butt"/>
<line x1="86.40" y1="570.20" x2="134.60" y2="570.20" stroke="#e8e8e8" stroke-width="1.4" stroke-linecap="butt"/>
<line x1="188.50" y1="570.20" x2="236.90" y2="570.20" stroke="#e8e8e8" stroke-width="1.4" stroke-linecap="butt"/>
<line x1="289.00" y1="570.20" x2="336.80" y2="570.20" stroke="#e8e8e8" stroke-width="1.4" stroke-linecap="butt"/>
<text x="583.06 596.69 607.99 619.29 630.59 638.00 645.40 656.70 668.00 679.30" y="366.60" font-family='"Liberation Sans", sans-serif' font-size="14" font-weight="bold" font-style="normal" fill="#000" >H3ac level</text>
<line x1="472.70" y1="391.20" x2="472.70" y2="607.80" stroke="#000" stroke-width="2" stroke-linecap="butt"/>
<line x1="467.30" y1="606.80" x2="795.70" y2="606.80" stroke="#000" stroke-width="2" stroke-linecap="butt"/>
<line x1="466.90" y1="606.80" x2="472.70" y2="606.80" stroke="#000" stroke-width="2" stroke-linecap="butt"/>
<text x="442.42 450.96 456.12" y="612.10" font-family='"Liberation Sans", sans-serif' font-size="12.2" font-weight="bold" font-style="normal" fill="#000" >0.0</text>
<line x1="466.90" y1="570.97" x2="472.70" y2="570.97" stroke="#000" stroke-width="2" stroke-linecap="butt"/>
<text x="442.42 450.88 455.95" y="576.27" font-family='"Liberation Sans", sans-serif' font-size="12.2" font-weight="bold" font-style="normal" fill="#000" >0.1</text>
<line x1="466.90" y1="535.14" x2="472.70" y2="535.14" stroke="#000" stroke-width="2" stroke-linecap="butt"/>
<text x="442.42 450.96 456.10" y="540.44" font-family='"Liberation Sans", sans-serif' font-size="12.2" font-weight="bold" font-style="normal" fill="#000" >0.2</text>
<line x1="466.90" y1="499.31" x2="472.70" y2="499.31" stroke="#000" stroke-width="2" stroke-linecap="butt"/>
<text x="442.42 450.93 456.06" y="504.61" font-family='"Liberation Sans", sans-serif' font-size="12.2" font-weight="bold" font-style="normal" fill="#000" >0.3</text>
<line x1="466.90" y1="463.48" x2="472.70" y2="463.48" stroke="#000" stroke-width="2" stroke-linecap="butt"/>
<text x="442.42 450.75 455.68" y="468.78" font-family='"Liberation Sans", sans-serif' font-size="12.2" font-weight="bold" font-style="normal" fill="#000" >0.4</text>
<line x1="466.90" y1="427.65" x2="472.70" y2="427.65" stroke="#000" stroke-width="2" stroke-linecap="butt"/>
<text x="442.42 450.88 455.95" y="432.95" font-family='"Liberation Sans", sans-serif' font-size="12.2" font-weight="bold" font-style="normal" fill="#000" >0.5</text>
<line x1="466.90" y1="391.82" x2="472.70" y2="391.82" stroke="#000" stroke-width="2" stroke-linecap="butt"/>
<text x="442.42 450.93 456.06" y="397.12" font-family='"Liberation Sans", sans-serif' font-size="12.2" font-weight="bold" font-style="normal" fill="#000" >0.6</text>
<rect x="499" y="440.91" width="108.7" height="165.89" fill="#000"/>
<rect x="659.6" y="504.9" width="109.1" height="101.9" fill="#8f8f8f"/>
<line x1="553.60" y1="441.00" x2="553.60" y2="422.00" stroke="#000" stroke-width="2.6" stroke-linecap="butt"/>
<line x1="526.40" y1="422.00" x2="580.30" y2="422.00" stroke="#000" stroke-width="2.6" stroke-linecap="butt"/>
<line x1="714.20" y1="505.00" x2="714.20" y2="485.50" stroke="#000" stroke-width="2.6" stroke-linecap="butt"/>
<line x1="687.40" y1="485.50" x2="740.60" y2="485.50" stroke="#000" stroke-width="2.6" stroke-linecap="butt"/>
<line x1="553.40" y1="606.80" x2="553.40" y2="612.50" stroke="#000" stroke-width="2" stroke-linecap="butt"/>
<line x1="714.20" y1="606.80" x2="714.20" y2="612.50" stroke="#000" stroke-width="2" stroke-linecap="butt"/>
<text x="523.93 537.32 552.16 564.83" y="631.10" font-family='"Liberation Sans", sans-serif' font-size="13" font-weight="bold" font-style="normal" fill="#000" >DMSO</text>
<text x="695.43 708.48 720.82" y="631.00" font-family='"Liberation Sans", sans-serif' font-size="13" font-weight="bold" font-style="normal" fill="#000" >RSV</text>
<text x="709.73" y="471.35" font-family='"Liberation Sans", sans-serif' font-size="16.5" font-weight="normal" font-style="normal" fill="#000" stroke="#000" stroke-width="0.35">*</text>
<text transform="translate(433.00,554.30) rotate(-90)" x="-0.87 10.78 20.28 29.78 39.27 45.15 56.80 66.30 72.17 79.50 88.99 95.59 101.47" y="0" font-family='"Liberation Sans", sans-serif' font-size="13" font-weight="bold" font-style="normal" fill="#000" >H3ac/H3 ratio</text>
<text x="3.58" y="710.50" font-family='"Liberation Sans", sans-serif' font-size="20" font-weight="bold" font-style="normal" fill="#000" >d</text>
<text x="41.53 53.60 67.44 78.63" y="709.70" font-family='"Liberation Sans", sans-serif' font-size="16" font-weight="bold" font-style="normal" fill="#000" >DMSO</text>
<text x="105.33 117.12 128.04" y="709.70" font-family='"Liberation Sans", sans-serif' font-size="16" font-weight="bold" font-style="normal" fill="#000" >RSV</text>
<text x="175.42 183.78 195.70" y="710.30" font-family='"Liberation Sans", sans-serif' font-size="16" font-weight="normal" font-style="normal" fill="#000" >kDa</text>
<text x="181.18 190.08" y="729.00" font-family='"Liberation Sans", sans-serif' font-size="16" font-weight="normal" font-style="normal" fill="#000" >72</text>
<text x="181.36 190.26" y="758.50" font-family='"Liberation Sans", sans-serif' font-size="16" font-weight="normal" font-style="normal" fill="#000" >55</text>
<text x="181.63 190.53" y="781.80" font-family='"Liberation Sans", sans-serif' font-size="16" font-weight="normal" font-style="normal" fill="#000" >43</text>
<text x="181.39 190.29" y="822.10" font-family='"Liberation Sans", sans-serif' font-size="16" font-weight="normal" font-style="normal" fill="#000" >31</text>
<text x="181.20 190.09" y="855.20" font-family='"Liberation Sans", sans-serif' font-size="16" font-weight="normal" font-style="normal" fill="#000" >24</text>
<text x="180.78 189.68" y="940.40" font-family='"Liberation Sans", sans-serif' font-size="16" font-weight="normal" font-style="normal" fill="#000" >17</text>
<text x="221.93 234.61" y="709.60" font-family='"Liberation Sans", sans-serif' font-size="16" font-weight="bold" font-style="normal" fill="#000" >MW</text>
<text x="254.13 266.30 280.24 291.53" y="709.40" font-family='"Liberation Sans", sans-serif' font-size="16" font-weight="bold" font-style="normal" fill="#000" >DMSO</text>
<text x="309.53 321.18 331.94" y="709.40" font-family='"Liberation Sans", sans-serif' font-size="16" font-weight="bold" font-style="normal" fill="#000" >RSV</text>
<rect x="52.3" y="719.2" width="93.6" height="258.7" fill="url(#gel1)"/>
<path d="M90,800 Q100,850 97,905 L106,905 Q110,850 100,800 Z" fill="#f4f4f7" opacity="0.35" filter="url(#bl3)"/>
<rect x="71.3" y="730.2" width="39" height="1.2" fill="#d8d8e0" opacity="0.6" filter="url(#bl2)"/>
<ellipse cx="75.7" cy="784.6" rx="0.9" ry="1.6" fill="#55557a"/>
<circle cx="59.8" cy="772.7" r="0.6" fill="#888"/>
<circle cx="82.3" cy="818" r="0.5" fill="#888"/>
<g clip-path="url(#cg1)">
<path d="M61.3,923.5 Q70,921 82,922 Q92,922.5 99.5,924 L99.5,928 Q85,929.3 70,928.8 Q64,928.6 61.3,927.5 Z" fill="#8789c2" filter="url(#blb)"/>
<path d="M103.5,918.5 Q112,915.8 125,916 Q138,916.3 145.9,919 L145.9,931 Q135,929.5 122,928.7 Q110,928.3 103.5,929 Z" fill="#7072b4" filter="url(#blb)"/>
<path d="M104.5,921 Q120,919 145.9,922 L145.9,929.8 Q125,927.8 104.5,928.3 Z" fill="#4d4f98" filter="url(#blb)"/>
<path d="M105,942.5 Q120,941.5 143.4,942.5 L143.4,951.5 Q125,952.2 105,951.5 Z" fill="#6f71b2" filter="url(#blb)"/>
<ellipse cx="116" cy="946" rx="2" ry="1.5" fill="#a8aad4" filter="url(#bl2)"/>
<ellipse cx="126" cy="944.5" rx="1.8" ry="1.3" fill="#b0b2da" filter="url(#bl2)"/>
</g>
<circle cx="135.2" cy="949.6" r="3.5" fill="#fdfdfd" stroke="#2a2a40" stroke-width="1.1"/>
<rect x="234" y="719.3" width="114.7" height="258.4" fill="url(#gel2)"/>
<g clip-path="url(#cg2)">
<path d="M241,783 L265,769" stroke="#c6aac8" stroke-width="1.2" fill="none" opacity="0.7" filter="url(#bl2)"/>
<path d="M238,790 L258,776" stroke="#d8c4d8" stroke-width="2.5" fill="none" opacity="0.5" filter="url(#bl3)"/>
<rect x="234" y="719.4" width="11.5" height="12.6" rx="3.5" fill="#f6c2c0" filter="url(#blb)"/>
<rect x="234" y="745.6" width="10.4" height="10.2" rx="3.5" fill="#a6c6f0" filter="url(#blb)"/>
<rect x="234" y="773" width="8.5" height="6.8" rx="3.5" fill="#b2b4e2" filter="url(#blb)"/>
<rect x="234" y="790.5" width="6.5" height="8.7" rx="3.5" fill="#c8b0a8" filter="url(#blb)"/>
<rect x="234" y="808" width="8.5" height="10.0" rx="3.5" fill="#b0c8f0" filter="url(#blb)"/>
<rect x="234" y="842" width="8.0" height="10.4" rx="3.5" fill="#b0c8f0" filter="url(#blb)"/>
<rect x="234" y="896.3" width="5.7" height="11.7" rx="3.5" fill="#a49274" filter="url(#blb)"/>
<rect x="234" y="922.8" width="8.8" height="15.5" rx="3.5" fill="#90b4ea" filter="url(#blb)"/>
<rect x="253.7" y="917.8" width="41.2" height="15.6" rx="3" fill="#cfaad2" filter="url(#bl3)"/>
<rect x="304.2" y="919.5" width="37.3" height="12.2" rx="3" fill="#e4d0e2" filter="url(#bl3)"/>
</g>
<circle cx="281" cy="755" r="0.9" fill="#303030"/>
<circle cx="282.5" cy="754.2" r="0.7" fill="#303030"/>
<circle cx="276" cy="757" r="0.5" fill="#303030"/>
<circle cx="301.6" cy="760.6" r="0.5" fill="#303030"/>
<circle cx="325.5" cy="780.8" r="0.6" fill="#303030"/>
<circle cx="275" cy="811.3" r="1.1" fill="#303030"/>
<circle cx="278.5" cy="820.5" r="0.8" fill="#303030"/>
<circle cx="332" cy="806" r="0.5" fill="#303030"/>
<circle cx="248.7" cy="777.5" r="0.8" fill="#303030"/>
<circle cx="250.8" cy="781.6" r="0.5" fill="#303030"/>
<circle cx="247" cy="918" r="0.5" fill="#303030"/>
<circle cx="275.5" cy="907.5" r="0.5" fill="#303030"/>
<circle cx="316" cy="897" r="0.4" fill="#303030"/>
<circle cx="255" cy="955" r="0.4" fill="#303030"/>
<circle cx="292" cy="937" r="0.4" fill="#303030"/>
<text x="76.32" y="1004.20" font-family='"Liberation Serif", serif' font-size="23" font-weight="normal" font-style="normal" fill="#000" stroke="#000" stroke-width="0.5">α</text>
<text x="89.00 96.37 110.74" y="1003.40" font-family='"Liberation Sans", sans-serif' font-size="18" font-weight="bold" font-style="normal" fill="#000" >-H3</text>
<text x="257.62" y="1004.60" font-family='"Liberation Serif", serif' font-size="23" font-weight="normal" font-style="normal" fill="#000" stroke="#000" stroke-width="0.5">α</text>
<text x="269.80 277.29 291.79 303.30 314.82" y="1004.00" font-family='"Liberation Sans", sans-serif' font-size="18" font-weight="bold" font-style="normal" fill="#000" >-H3ac</text>
<text x="558.86 572.49 583.79 595.09 606.39 613.80 621.20 632.50 643.80 655.10" y="724.10" font-family='"Liberation Sans", sans-serif' font-size="14" font-weight="bold" font-style="normal" fill="#000" >H3ac level</text>
<line x1="443.80" y1="748.90" x2="443.80" y2="966.00" stroke="#000" stroke-width="2" stroke-linecap="butt"/>
<line x1="437.20" y1="965.00" x2="768.40" y2="965.00" stroke="#000" stroke-width="2" stroke-linecap="butt"/>
<line x1="438.00" y1="965.00" x2="443.80" y2="965.00" stroke="#000" stroke-width="2" stroke-linecap="butt"/>
<text x="427.32" y="969.90" font-family='"Liberation Sans", sans-serif' font-size="12.2" font-weight="bold" font-style="normal" fill="#000" >0</text>
<line x1="438.00" y1="911.30" x2="443.80" y2="911.30" stroke="#000" stroke-width="2" stroke-linecap="butt"/>
<text x="427.15" y="916.20" font-family='"Liberation Sans", sans-serif' font-size="12.2" font-weight="bold" font-style="normal" fill="#000" >1</text>
<line x1="438.00" y1="857.60" x2="443.80" y2="857.60" stroke="#000" stroke-width="2" stroke-linecap="butt"/>
<text x="427.30" y="862.50" font-family='"Liberation Sans", sans-serif' font-size="12.2" font-weight="bold" font-style="normal" fill="#000" >2</text>
<line x1="438.00" y1="803.90" x2="443.80" y2="803.90" stroke="#000" stroke-width="2" stroke-linecap="butt"/>
<text x="427.26" y="808.80" font-family='"Liberation Sans", sans-serif' font-size="12.2" font-weight="bold" font-style="normal" fill="#000" >3</text>
<line x1="438.00" y1="750.20" x2="443.80" y2="750.20" stroke="#000" stroke-width="2" stroke-linecap="butt"/>
<text x="426.88" y="755.10" font-family='"Liberation Sans", sans-serif' font-size="12.2" font-weight="bold" font-style="normal" fill="#000" >4</text>
<line x1="525.00" y1="965.00" x2="525.00" y2="970.50" stroke="#000" stroke-width="2" stroke-linecap="butt"/>
<line x1="686.10" y1="965.00" x2="686.10" y2="970.50" stroke="#000" stroke-width="2" stroke-linecap="butt"/>
<text x="497.50 509.83 523.50 535.17" y="988.20" font-family='"Liberation Sans", sans-serif' font-size="12" font-weight="bold" font-style="normal" fill="#000" >DMSO</text>
<text x="670.10 681.57 692.38" y="988.00" font-family='"Liberation Sans", sans-serif' font-size="12" font-weight="bold" font-style="normal" fill="#000" >RSV</text>
<text transform="translate(416.20,929.10) rotate(-90)" x="-0.87 10.58 19.88 25.56 34.85 41.25 46.92 56.22 65.52 71.19 76.87 86.88 93.27 102.57 112.57 121.87 127.55 133.94" y="0" font-family='"Liberation Sans", sans-serif' font-size="13" font-weight="bold" font-style="normal" fill="#000" >Relative intensity</text>
<rect x="475.30" y="876.20" width="8" height="8" fill="#000"/>
<rect x="488.40" y="881.20" width="8" height="8" fill="#000"/>
<rect x="501.40" y="862.30" width="8" height="8" fill="#000"/>
<rect x="501.40" y="886.20" width="8" height="8" fill="#000"/>
<rect x="514.20" y="874.90" width="8" height="8" fill="#000"/>
<rect x="514.20" y="888.70" width="8" height="8" fill="#000"/>
<rect x="521.00" y="853.10" width="8" height="8" fill="#000"/>
<rect x="527.30" y="887.90" width="8" height="8" fill="#000"/>
<rect x="534.00" y="875.40" width="8" height="8" fill="#000"/>
<rect x="540.60" y="884.90" width="8" height="8" fill="#000"/>
<rect x="546.60" y="871.10" width="8" height="8" fill="#000"/>
<rect x="553.10" y="879.20" width="8" height="8" fill="#000"/>
<rect x="566.10" y="876.20" width="8" height="8" fill="#000"/>
<rect x="521.00" y="806.90" width="8" height="8" fill="#000"/>
<line x1="471.00" y1="875.90" x2="578.20" y2="875.90" stroke="#000" stroke-width="2.2" stroke-linecap="butt"/>
<line x1="498.60" y1="854.60" x2="551.30" y2="854.60" stroke="#000" stroke-width="2.2" stroke-linecap="butt"/>
<line x1="498.60" y1="897.20" x2="551.30" y2="897.20" stroke="#000" stroke-width="2.2" stroke-linecap="butt"/>
<line x1="525.00" y1="854.60" x2="525.00" y2="897.20" stroke="#000" stroke-width="2.2" stroke-linecap="butt"/>
<path d="M639.30,924.50 L643.30,932.10 L635.30,932.10 Z" fill="#000"/>
<path d="M646.80,925.00 L650.80,932.90 L642.80,932.90 Z" fill="#000"/>
<path d="M654.40,917.80 L658.40,926.10 L650.40,926.10 Z" fill="#000"/>
<path d="M655.10,928.30 L659.10,935.90 L651.10,935.90 Z" fill="#000"/>
<path d="M662.70,930.50 L666.70,938.20 L658.70,938.20 Z" fill="#000"/>
<path d="M667.20,923.10 L671.20,930.60 L663.20,930.60 Z" fill="#000"/>
<path d="M670.20,932.80 L674.20,940.40 L666.20,940.40 Z" fill="#000"/>
<path d="M678.50,935.10 L682.50,942.70 L674.50,942.70 Z" fill="#000"/>
<path d="M680.00,923.80 L684.00,931.40 L676.00,931.40 Z" fill="#000"/>
<path d="M686.00,938.90 L690.00,946.40 L682.00,946.40 Z" fill="#000"/>
<path d="M693.50,923.80 L697.50,931.30 L689.50,931.30 Z" fill="#000"/>
<path d="M694.00,938.90 L698.00,946.40 L690.00,946.40 Z" fill="#000"/>
<path d="M702.60,934.30 L706.60,941.90 L698.60,941.90 Z" fill="#000"/>
<path d="M706.30,923.10 L710.30,930.60 L702.30,930.60 Z" fill="#000"/>
<path d="M710.80,932.10 L714.80,939.70 L706.80,939.70 Z" fill="#000"/>
<path d="M718.40,929.80 L722.40,937.40 L714.40,937.40 Z" fill="#000"/>
<path d="M719.10,922.30 L723.10,929.90 L715.10,929.90 Z" fill="#000"/>
<path d="M725.90,925.30 L729.90,932.90 L721.90,932.90 Z" fill="#000"/>
<path d="M734.20,924.50 L738.20,932.90 L730.20,932.90 Z" fill="#000"/>
<line x1="632.80" y1="932.30" x2="740.20" y2="932.30" stroke="#000" stroke-width="2.2" stroke-linecap="butt"/>
<line x1="660.40" y1="926.30" x2="713.10" y2="926.30" stroke="#000" stroke-width="2.2" stroke-linecap="butt"/>
<line x1="660.40" y1="935.00" x2="713.10" y2="935.00" stroke="#000" stroke-width="2.2" stroke-linecap="butt"/>
<line x1="686.00" y1="926.30" x2="686.00" y2="935.00" stroke="#000" stroke-width="2.2" stroke-linecap="butt"/>
<text x="665.83" y="901.95" font-family='"Liberation Sans", sans-serif' font-size="16.5" font-weight="normal" font-style="normal" fill="#000" stroke="#000" stroke-width="0.35">*</text>
<text x="676.63" y="901.95" font-family='"Liberation Sans", sans-serif' font-size="16.5" font-weight="normal" font-style="normal" fill="#000" stroke="#000" stroke-width="0.35">*</text>
<text x="687.33" y="901.95" font-family='"Liberation Sans", sans-serif' font-size="16.5" font-weight="normal" font-style="normal" fill="#000" stroke="#000" stroke-width="0.35">*</text>
<text x="698.53" y="901.95" font-family='"Liberation Sans", sans-serif' font-size="16.5" font-weight="normal" font-style="normal" fill="#000" stroke="#000" stroke-width="0.35">*</text></svg>
</body></html>
